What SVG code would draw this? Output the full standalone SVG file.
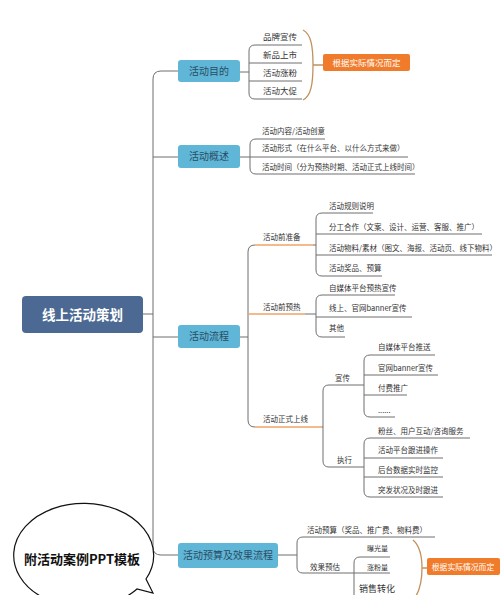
<svg xmlns="http://www.w3.org/2000/svg" width="500" height="595" viewBox="0 0 500 595">
<defs>
<style>
.ln{fill:none;stroke:#6f6f6f;stroke-width:1}
.ul{fill:none;stroke:#f0a468;stroke-width:1.4}
.pr{fill:none;stroke:#c0915e;stroke-width:1.3}
.t{font-family:"Noto Sans CJK SC","Noto Sans",sans-serif;font-size:7.5px;fill:#333}
.nb{fill:#5fb6d7}
.nt{font-family:"Noto Sans CJK SC","Noto Sans",sans-serif;font-size:10px;fill:#2a4d63;text-anchor:middle}
.ob{fill:#f07b2b}
.ot{font-family:"Noto Sans CJK SC","Noto Sans",sans-serif;fill:#ffffff;text-anchor:middle}
</style>
</defs>
<rect width="500" height="595" fill="#ffffff"/>

<g id="connectors">
<!-- main trunk -->
<path class="ln" d="M178,71 H161 Q153,71 153,79 V547 Q153,555 161,555 H178"/>
<path class="ln" d="M143,314 H153 M153,157 H178 M153,337 H178"/>
<!-- 活动目的 -->
<path class="ln" d="M240,72 H249 M302,45 H255 Q249,45 249,51 V93 Q249,99 255,99 H302 M249,63 H302 M249,81 H302"/>
<path class="pr" d="M303,30 C311,34 313,46 313,65 C313,84 311,96 303,100 M313,65 H323"/>
<!-- 活动概述 -->
<path class="ln" d="M240,157 H250 M325,139 H256 Q250,139 250,145 V168 Q250,174 256,174 H415 M250,157 H408"/>
<!-- 活动流程 -->
<path class="ln" d="M240,337 H248 M255,245 Q248,245 248,252 V420 Q248,427 255,427"/>
<path class="ul" d="M255,245 H313 M248,314 H305 M255,427 H322"/>
<path class="ln" d="M313,245 H316 M305,314 H316"/>
<!-- 活动前准备 items -->
<path class="ln" d="M373,213 H322 Q316,213 316,219 V270 Q316,276 322,276 H382 M316,234 H482 M316,255 H492"/>
<!-- 活动前预热 items -->
<path class="ln" d="M395,295 H322 Q316,295 316,301 V331 Q316,337 322,337 H345 M316,317 H412"/>
<!-- 活动正式上线 -->
<path class="ln" d="M322,427 H323 M363,385 H329 Q323,385 323,391 V461 Q323,467 329,467 H363"/>
<!-- 宣传 -->
<path class="ln" d="M363,385 H364 M435,355 H370 Q364,355 364,361 V411 Q364,417 370,417 H395 M364,375 H438 M364,395 H407"/>
<!-- 执行 -->
<path class="ln" d="M363,467 H364 M470,438 H370 Q364,438 364,444 V491 Q364,497 370,497 H443 M364,458 H443 M364,477 H443"/>
<!-- 活动预算及效果流程 -->
<path class="ln" d="M278,555 H297 M435,537 H303 Q297,537 297,543 V567 Q297,573 303,573 H390 M390,557 H360 Q354,557 354,563 V600"/>
<path class="pr" d="M413,540 C420,546 422,556 422,568 C422,582 420,592 413,600 M422,568 H427"/>
</g>

<g id="root">
<rect x="22" y="296" width="121" height="37" rx="4" fill="#4b6993"/>
<text x="82.5" y="319.5" font-family="'Noto Sans CJK SC','Noto Sans',sans-serif" font-size="13.5" font-weight="bold" fill="#ffffff" text-anchor="middle">线上活动策划</text>
</g>

<g id="n-mudi">
<rect class="nb" x="178" y="60" width="62" height="22" rx="3"/>
<text class="nt" x="209" y="74.5">活动目的</text>
</g>
<g id="mudi-items">
<text class="t" x="263" y="40" style="font-size:8.5px">品牌宣传</text>
<text class="t" x="263" y="58" style="font-size:8.5px">新品上市</text>
<text class="t" x="263" y="76" style="font-size:8.5px">活动涨粉</text>
<text class="t" x="263" y="94" style="font-size:8.5px">活动大促</text>
</g>
<g id="o-top">
<rect class="ob" x="323" y="54" width="87" height="17" rx="2"/>
<text class="ot" x="366.5" y="65.5" font-size="8.5">根据实际情况而定</text>
</g>

<g id="n-gaishu">
<rect class="nb" x="178" y="145" width="62" height="23" rx="3"/>
<text class="nt" x="209" y="160">活动概述</text>
</g>
<g id="gaishu-items">
<text class="t" x="262" y="134">活动内容/活动创意</text>
<text class="t" x="262" y="151">活动形式（在什么平台、以什么方式来做）</text>
<text class="t" x="262" y="170">活动时间（分为预热时期、活动正式上线时间）</text>
</g>

<g id="n-liucheng">
<rect class="nb" x="178" y="325" width="62" height="23" rx="3"/>
<text class="nt" x="209" y="340">活动流程</text>
</g>
<g id="zhunbei">
<text class="t" x="263" y="240">活动前准备</text>
<text class="t" x="329" y="209">活动规则说明</text>
<text class="t" x="329" y="230">分工合作（文案、设计、运营、客服、推广）</text>
<text class="t" x="329" y="251">活动物料/素材（图文、海报、活动页、线下物料）</text>
<text class="t" x="329" y="271">活动奖品、预算</text>
</g>
<g id="yure">
<text class="t" x="263" y="310">活动前预热</text>
<text class="t" x="329" y="291">自媒体平台预热宣传</text>
<text class="t" x="329" y="311">线上、官网banner宣传</text>
<text class="t" x="329" y="331">其他</text>
</g>
<g id="shangxian">
<text class="t" x="263" y="422">活动正式上线</text>
</g>
<g id="xuanchuan">
<text class="t" x="335" y="381">宣传</text>
<text class="t" x="378" y="350">自媒体平台推送</text>
<text class="t" x="378" y="371">官网banner宣传</text>
<text class="t" x="378" y="391">付费推广</text>
<text class="t" x="378" y="413">......</text>
</g>
<g id="zhixing">
<text class="t" x="337" y="463">执行</text>
<text class="t" x="378" y="434">粉丝、用户互动/咨询服务</text>
<text class="t" x="378" y="453">活动平台跟进操作</text>
<text class="t" x="378" y="473">后台数据实时监控</text>
<text class="t" x="378" y="493">突发状况及时跟进</text>
</g>

<g id="n-yusuan">
<rect class="nb" x="178" y="543" width="100" height="25" rx="3"/>
<text class="nt" x="228" y="559">活动预算及效果流程</text>
</g>
<g id="yusuan-items">
<text class="t" x="307" y="533">活动预算（奖品、推广费、物料费）</text>
<text class="t" x="310" y="570">效果预估</text>
<text class="t" x="367" y="551" style="font-size:7px">曝光量</text>
<text class="t" x="367" y="570" style="font-size:7px">涨粉量</text>
<text class="t" x="359" y="592" style="font-size:9px">销售转化</text>
</g>
<g id="o-bottom">
<rect class="ob" x="427" y="558" width="73" height="17" rx="2"/>
<text class="ot" x="463" y="569.5" font-size="7.8">根据实际情况而定</text>
</g>

<g id="bubble">
<path d="M146,579 A70 52 0 1 0 137,589 L153,593 Z" fill="#ffffff" stroke="#111" stroke-width="1.2"/>
<text x="82" y="564" font-family="'Noto Sans CJK SC','Noto Sans',sans-serif" font-size="13" font-weight="bold" fill="#111" text-anchor="middle">附活动案例PPT模板</text>
</g>
</svg>
